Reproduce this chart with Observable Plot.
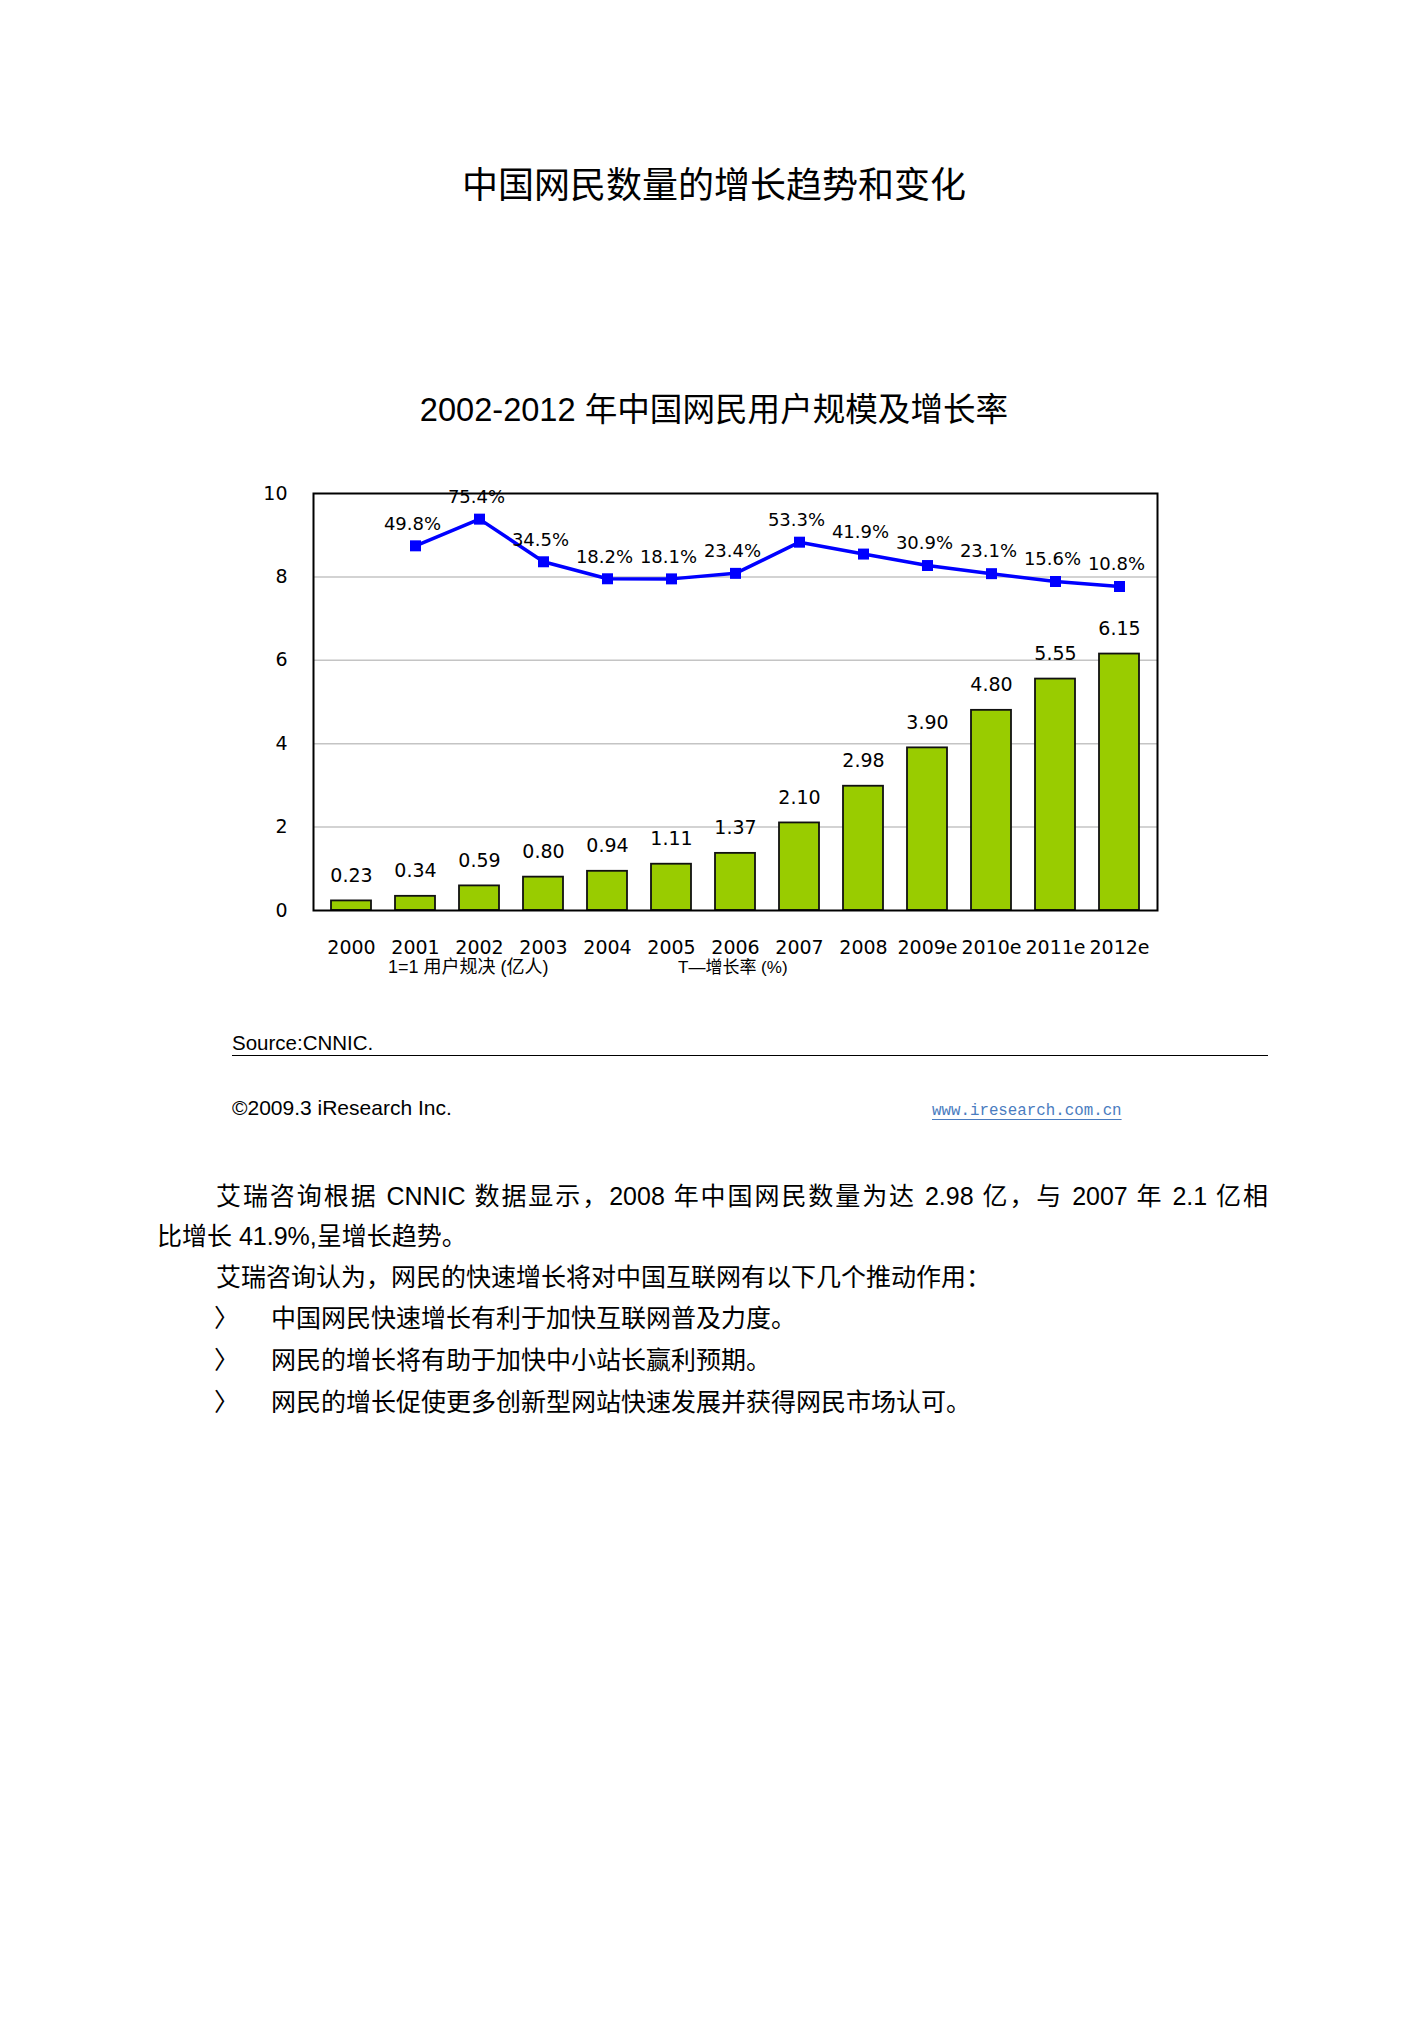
<!DOCTYPE html>
<html>
<head>
<meta charset="utf-8">
<script src="https://cdn.jsdelivr.net/npm/d3@7"></script>
<script src="https://cdn.jsdelivr.net/npm/@observablehq/plot@0.6"></script>
<style>
  html, body { margin: 0; padding: 0; background: #fff; }
  #page { position: relative; width: 1428px; height: 2020px; background: #fff; overflow: hidden; }
  .abs { position: absolute; white-space: nowrap; color: #000; }
  .cjk { font-family: "Liberation Sans", "Noto Sans CJK SC", sans-serif; }
</style>
</head>
<body>
<div id="page">
  <div class="abs cjk" id="title" style="left:0;width:1428px;text-align:center;top:168px;font-size:36px;line-height:36px;">中国网民数量的增长趋势和变化</div>
  <div class="abs cjk" id="subtitle" style="left:0;width:1428px;text-align:center;top:393px;font-size:32.6px;line-height:33px;">2002-2012 年中国网民用户规模及增长率</div>
  <div id="chart" style="position:absolute;left:0;top:470px;"></div>
  <div id="legend"></div>
  <div class="abs" style="left:232px;top:1032px;font-family:'Liberation Sans';font-size:20.5px;line-height:22px;">Source:CNNIC.</div>
  <div style="position:absolute;left:232px;top:1055px;width:1036px;height:0;border-top:1.5px solid #000;"></div>
  <div class="abs" style="left:232px;top:1097px;font-family:'Liberation Sans';font-size:21px;line-height:22px;">©2009.3 iResearch Inc.</div>
  <div class="abs" style="left:932px;top:1101px;font-family:'Liberation Mono','DejaVu Sans Mono',monospace;font-size:15.8px;line-height:20px;color:#4a7cc0;text-decoration:underline;text-underline-offset:4px;">www.iresearch.com.cn</div>
  <div id="body"></div>
</div>
<script>
// ---- data ----
const years = ["2000","2001","2002","2003","2004","2005","2006","2007","2008","2009e","2010e","2011e","2012e"];
const users = [0.23, 0.34, 0.59, 0.80, 0.94, 1.11, 1.37, 2.10, 2.98, 3.90, 4.80, 5.55, 6.15];
const rateYears = ["2001","2002","2003","2004","2005","2006","2007","2008","2009e","2010e","2011e","2012e"];
const rates = [49.8, 75.4, 34.5, 18.2, 18.1, 23.4, 53.3, 41.9, 30.9, 23.1, 15.6, 10.8];
const yTicks = [0, 2, 4, 6, 8, 10];
const gridTicks = [2, 4, 6, 8];
const legendLabels = ["1=1 用户规决 (亿人)", "T—增长率 (%)"];
const bodyLines = [
  "艾瑞咨询根据 CNNIC 数据显示，2008 年中国网民数量为达 2.98 亿，与 2007 年 2.1 亿相",
  "比增长 41.9%,呈增长趋势。",
  "艾瑞咨询认为，网民的快速增长将对中国互联网有以下几个推动作用："
];
const bullets = [
  "中国网民快速增长有利于加快互联网普及力度。",
  "网民的增长将有助于加快中小站长赢利预期。",
  "网民的增长促使更多创新型网站快速发展并获得网民市场认可。"
];

// ---- chart ----
const barData = years.map((y, i) => ({year: y, users: users[i]}));
const rateData = rateYears.map((y, i) => ({year: y, rate: rates[i]}));
// secondary (growth-rate) axis: 0%..100% mapped onto 7.5..10 of the left axis
const rateToY = d3.scaleLinear([0, 100], [7.5, 10]);

const chart = Plot.plot({
  width: 1428,
  height: 520,
  marginLeft: 313,
  marginRight: 271,
  marginTop: 23,
  marginBottom: 80,
  x: {domain: years, paddingInner: 0.38, paddingOuter: 0.19, label: null, tickSize: 0, tickPadding: 30},
  y: {domain: [0, 10], ticks: yTicks, label: null, tickSize: 0, tickPadding: 26},
  style: {fontFamily: "'DejaVu Sans', sans-serif", fontSize: "19px", color: "#000", background: "#fff"},
  marks: [
    Plot.ruleY(gridTicks, {stroke: "#c4c4c4", strokeWidth: 1.5}),
    Plot.barY(barData, {x: "year", y: "users", fill: "#99cc00", stroke: "#111", strokeWidth: 1.8}),
    Plot.text(barData, {x: "year", y: "users", text: d => d.users.toFixed(2), dy: -25, fontSize: 19, fill: "#000"}),
    Plot.line(rateData, {x: "year", y: d => rateToY(d.rate), stroke: "#0000ff", strokeWidth: 3.5}),
    Plot.dot(rateData, {x: "year", y: d => rateToY(d.rate), symbol: "square", r: 6.2, fill: "#0000ff", stroke: "none"}),
    Plot.text(rateData, {x: "year", y: d => rateToY(d.rate), text: d => d.rate.toFixed(1) + "%", dy: -22, dx: -3, fontSize: 18, fill: "#000"}),
    Plot.frame({stroke: "#000", strokeWidth: 2})
  ]
});
document.getElementById("chart").appendChild(chart);

// ---- legend below chart ----
const legend = document.getElementById("legend");
[[388, 18], [678, 17]].forEach(([left, fs], i) => {
  const d = document.createElement("div");
  d.className = "abs cjk";
  d.style.left = left + "px";
  d.style.top = (968 - fs / 2 - 1) + "px";
  d.style.fontSize = fs + "px";
  d.style.lineHeight = fs + "px";
  d.textContent = legendLabels[i];
  legend.appendChild(d);
});

// ---- body text ----
const body = document.getElementById("body");
function addLine(text, left, top, width, justify) {
  const d = document.createElement("div");
  d.className = "abs cjk";
  d.style.left = left + "px";
  d.style.top = top + "px";
  d.style.fontSize = "25px";
  d.style.lineHeight = "28px";
  d.textContent = text;
  if (justify) {
    d.style.width = width + "px";
    d.style.whiteSpace = "normal";
    d.style.textAlign = "justify";
    d.style.textAlignLast = "justify";
  }
  body.appendChild(d);
}
addLine(bodyLines[0], 216, 1182, 1052, true);
addLine(bodyLines[1], 157, 1222, 0, false);
addLine(bodyLines[2], 216, 1263, 0, false);
bullets.forEach((b, i) => {
  const top = 1304 + i * 42;
  addLine("〉", 214, top, 0, false);
  addLine(b, 271, top, 0, false);
});
</script>
</body>
</html>
